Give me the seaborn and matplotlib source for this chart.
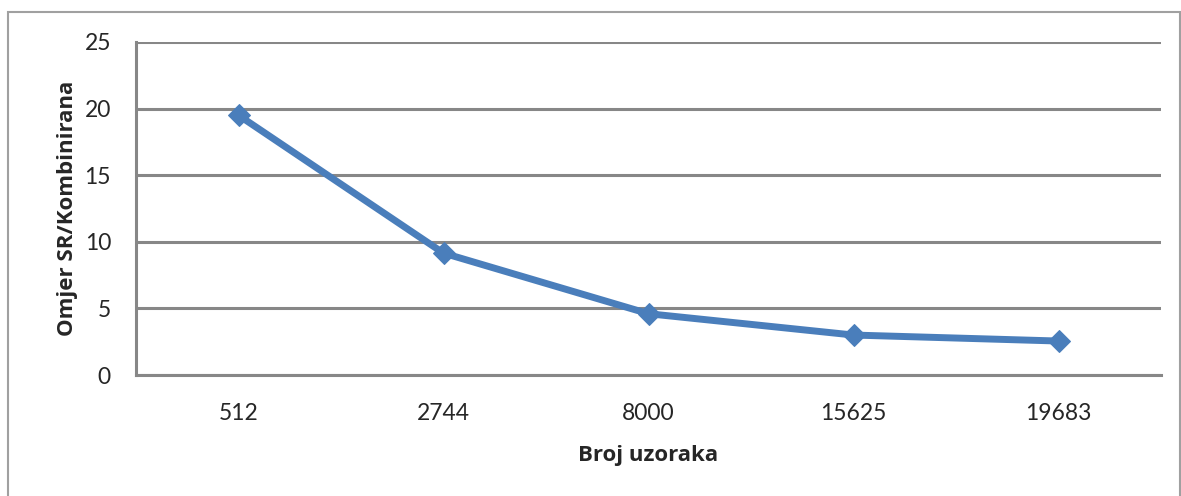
import pandas as pd
import numpy as np
import seaborn as sns
import matplotlib.pyplot as plt
from matplotlib.patches import Rectangle
from matplotlib.ticker import FixedLocator

samples = ["512", "2744", "8000", "15625", "19683"]
ratio = [19.5, 9.15, 4.6, 3.0, 2.55]

df = pd.DataFrame({"Broj uzoraka": samples, "Omjer SR/Kombinirana": ratio})

sns.set_style("white")
plt.rcParams['font.family'] = ['Lato', 'DejaVu Sans']

grey = "#878787"
fig = plt.figure(figsize=(11.81, 4.96), dpi=100)
ax = fig.add_axes([136/1181, 1-375/496, (1161-136)/1181, (375-42)/496])

sns.lineplot(data=df, x="Broj uzoraka", y="Omjer SR/Kombinirana", ax=ax,
             color="#4a7ebb", linewidth=5, marker="D", markersize=11,
             markeredgecolor="#4a7ebb", sort=False)

ax.set_xlim(-0.5, 4.5)
ax.set_ylim(0, 25)
ax.set_yticks([0, 5, 10, 15, 20, 25])
ax.yaxis.grid(True, color=grey, linewidth=2.2)
ax.set_axisbelow(True)
for s in ["top", "right"]:
    ax.spines[s].set_visible(False)
for s in ["left", "bottom"]:
    ax.spines[s].set_color(grey)
    ax.spines[s].set_linewidth(2.2)

ax.xaxis.set_minor_locator(FixedLocator(np.arange(-0.5, 5, 1)))
ax.tick_params(axis="x", which="major", length=0, pad=20, labelsize=16.5)
ax.tick_params(axis="x", which="minor", length=6, width=2.2, color=grey, direction="out")
ax.tick_params(axis="y", length=8, width=2.2, color=grey, pad=10, labelsize=16.5)

lab_font = dict(family=["Open Sans", "DejaVu Sans"], fontsize=16, fontweight="bold")
ax.set_xlabel("Broj uzoraka", labelpad=15, **lab_font)
ax.set_ylabel("Omjer SR/Kombinirana", labelpad=5, **lab_font)

fig.patches.append(Rectangle((8/1181, -0.1), (1180-8)/1181, 1.1 - 12/496,
                             transform=fig.transFigure, fill=False,
                             edgecolor="#a0a0a0", linewidth=1.5))

fig.savefig("out.png", dpi=100)
